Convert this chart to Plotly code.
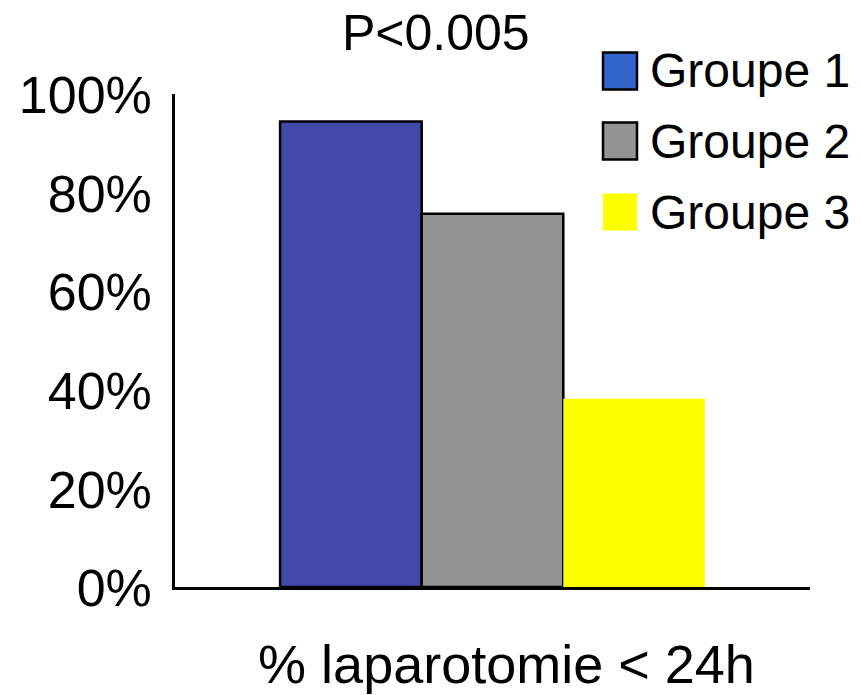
import plotly.graph_objects as go

# ---- data ----
category = ["% laparotomie < 24h"]
groups = ["Groupe 1", "Groupe 2", "Groupe 3"]
values = [0.944, 0.757, 0.382]
bar_colors = ["#4349A8", "#939393", "#FFFF00"]
legend_colors = ["#3366CC", "#939393", "#FFFF00"]
outline_widths = [2.5, 2.5, 0]
title_text = "P<0.005"
y_ticks = [0, 0.2, 0.4, 0.6, 0.8, 1.0]

FONT = "Liberation Sans, Arial, sans-serif"

# plot area in pixels
W, H = 861, 695
L, R, T, B = 175, 51, 94, 108
PW, PH = W - L - R, H - T - B

def px_x(px):
    return (px - L) / PW

def px_y(py):
    return (H - B - py) / PH

fig = go.Figure()
for name, v, c, lw in zip(groups, values, bar_colors, outline_widths):
    fig.add_trace(go.Bar(
        x=category, y=[v], name=name,
        marker=dict(color=c, line=dict(color="black", width=lw)),
        showlegend=False,
    ))

# legend drawn manually (large swatches)
shapes = []
annotations = []
row_centers = [71, 141, 212]
for i, (name, c) in enumerate(zip(groups, legend_colors)):
    cy = row_centers[i]
    has_line = outline_widths[i] > 0
    shapes.append(dict(
        type="rect", xref="paper", yref="paper",
        x0=px_x(603), x1=px_x(637), y0=px_y(cy + 18.5), y1=px_y(cy - 18.5),
        fillcolor=c,
        line=dict(color="black" if has_line else c, width=2.5 if has_line else 0),
    ))
    annotations.append(dict(
        text=name, xref="paper", yref="paper",
        x=px_x(648), y=px_y(cy), xanchor="left", yanchor="middle",
        showarrow=False, font=dict(family=FONT, size=48, color="black"),
    ))

annotations.append(dict(
    text=title_text, xref="paper", yref="paper",
    x=px_x(436), y=px_y(33), xanchor="center", yanchor="middle",
    showarrow=False, font=dict(family=FONT, size=50, color="black"),
))

fig.update_layout(
    width=W, height=H,
    margin=dict(l=L, r=R, t=T, b=B, pad=0),
    paper_bgcolor="white", plot_bgcolor="white",
    barmode="group", bargap=0.331, bargroupgap=0,
    shapes=shapes, annotations=annotations,
    font=dict(family=FONT, color="black"),
)
fig.update_yaxes(
    range=[0, 1.0], tickvals=y_ticks, tickformat=".0%",
    showgrid=False, zeroline=False, automargin=False,
    showline=True, linecolor="black", linewidth=2.5,
    ticks="", tickfont=dict(family=FONT, size=52, color="black"),
    ticklabelstandoff=10, ticklabelshift=1,
)
fig.update_xaxes(
    showgrid=False, zeroline=False, automargin=False,
    showline=True, linecolor="black", linewidth=2.5,
    ticks="", tickfont=dict(family=FONT, size=54, color="black"),
    ticklabelstandoff=28, ticklabelshift=14,
)

fig.write_html("out.html")
